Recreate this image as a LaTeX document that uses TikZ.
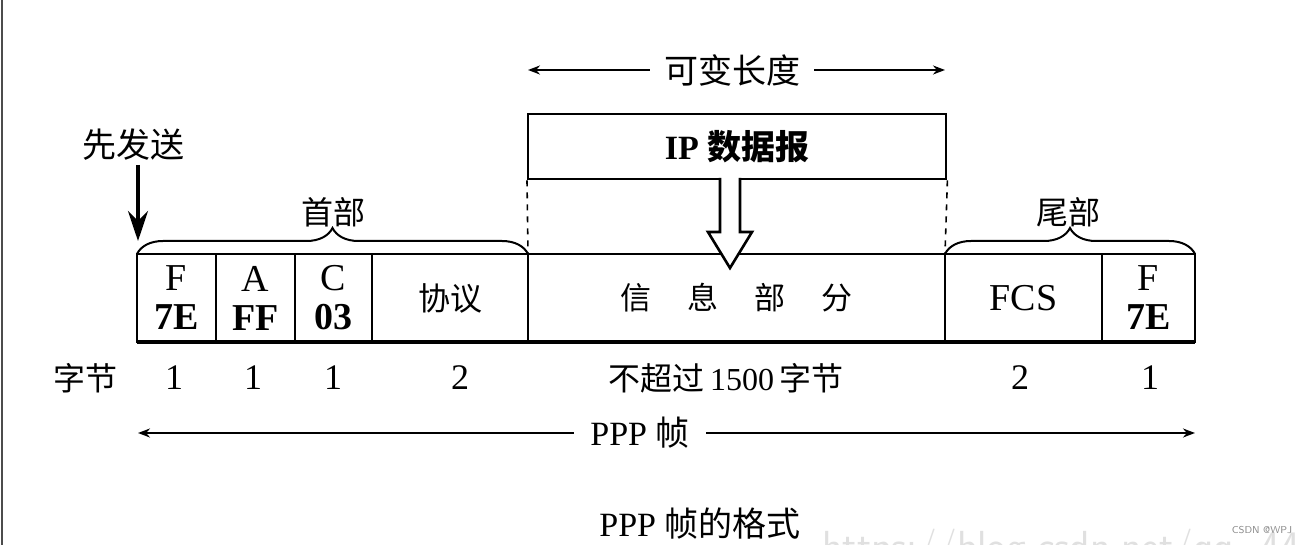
\documentclass[tikz,border=0pt]{standalone}
\usepackage{fontspec}
\setmainfont{Liberation Serif}
\newfontfamily\cjk{Noto Sans CJK SC}
\usetikzlibrary{arrows.meta,decorations.pathreplacing}
\begin{document}
\begin{tikzpicture}[x=0.5pt,y=-0.5pt,
  cellbox/.style={draw, line width=1pt, anchor=north west, inner sep=0pt, outer sep=0pt,
    minimum height=44pt, align=center, font=\fontsize{19pt}{19.5pt}\selectfont},
  cjklabel/.style={inner sep=1pt, font=\fontsize{16pt}{18pt}\selectfont\cjk},
  numlabel/.style={inner sep=1pt, font=\fontsize{18pt}{20pt}\selectfont},
  dimarrow/.style={line width=1pt, -{Stealth[length=6pt,width=4.5pt]}},
  bracestyle/.style={decorate, decoration={brace, amplitude=13pt}, line width=1pt},
  hollowarrow/.style={draw, line width=1.3pt, fill=white, line join=miter},
  wm/.style={text=black!12, font=\fontsize{21pt}{24pt}\selectfont\sffamily}
]
\useasboundingbox (0,0) rectangle (1303,545);
\fill[white] (0,0) rectangle (1303,545);
\draw[black!70, line width=0.8pt] (2,0) -- (2,545);

% frame cells
\node[cellbox, minimum width=39.5pt] (cF) at (137,254) {F\\\textbf{7E}};
\node[cellbox, minimum width=39.5pt] (cA) at (216,254) {A\\\textbf{FF}};
\node[cellbox, minimum width=38.5pt] (cC) at (295,254) {C\\\textbf{03}};
\node[cellbox, minimum width=78pt, font=\fontsize{16pt}{18pt}\selectfont\cjk] (cP) at (372,254) {协议};
\node[cellbox, minimum width=208.5pt, font=\fontsize{15.5pt}{18pt}\selectfont\cjk] (cI) at (528,254) {信\hspace{18pt}息\hspace{18pt}部\hspace{18pt}分};
\node[cellbox, minimum width=78.5pt] (cS) at (945,254) {FCS};
\node[cellbox, minimum width=46.5pt] (cE) at (1102,254) {F\\\textbf{7E}};
\draw[line width=2pt] (cF.south west) -- (cE.south east);

% IP datagram
\node[draw, line width=1.2pt, anchor=north west, inner sep=0pt, minimum width=209pt, minimum height=32.5pt,
  font=\fontsize{17pt}{19pt}\selectfont\bfseries] (ip) at (527,113) {IP {\cjk 数据报}};
\draw[dashed, line width=0.8pt] (ip.south west) -- (cI.north west);
\draw[dashed, line width=0.8pt] (ip.south east) -- (cI.north east);
\path[hollowarrow] (720,178) -- (720,232) -- (708,232) -- (730,268) -- (752,232) -- (740,232) -- (740,178);

% variable length
\node[cjklabel, font=\fontsize{17pt}{19pt}\selectfont\cjk] (var) at (732,70) {可变长度};
\coordinate (varL) at (528,70);
\coordinate (varR) at (945,70);
\draw[dimarrow] ([xshift=-6pt]var.west) -- (varL);
\draw[dimarrow] ([xshift=6pt]var.east) -- (varR);

% braces
\draw[bracestyle] (cF.north west) -- (cP.north east);
\node[cjklabel] (hdr) at (333,212) {首部};
\draw[bracestyle] (cS.north west) -- (cE.north east);
\node[cjklabel] (trl) at (1068,212) {尾部};

% send first
\node[cjklabel, font=\fontsize{17pt}{19pt}\selectfont\cjk] (first) at (134,145) {先发送};
\coordinate (firstEnd) at (138,241);
\draw[line width=1.8pt, -{Stealth[length=15pt,width=10pt]}] (138,165) -- (firstEnd);

% byte row
\node[cjklabel] (bytes) at (86,378) {字节};
\node[numlabel] (n1) at (174,378) {1};
\node[numlabel] (n2) at (253,378) {1};
\node[numlabel] (n3) at (333,378) {1};
\node[numlabel] (n4) at (460,378) {2};
\node[numlabel, font=\fontsize{16pt}{18pt}\selectfont] (n5) at (726,378) {{\cjk 不超过}\,1500\,{\cjk 字节}};
\node[numlabel] (n6) at (1020,378) {2};
\node[numlabel] (n7) at (1150,378) {1};

% PPP frame
\node[inner sep=1pt, font=\fontsize{17pt}{19pt}\selectfont] (ppp) at (640,433) {PPP {\cjk 帧}};
\coordinate (pppL) at (138,433);
\coordinate (pppR) at (1195,433);
\draw[dimarrow] ([xshift=-7pt]ppp.west) -- (pppL);
\draw[dimarrow] ([xshift=7pt]ppp.east) -- (pppR);

% caption
\node[inner sep=1pt, font=\fontsize{17pt}{19pt}\selectfont] (cap) at (700,524) {PPP {\cjk 帧的格式}};

% watermark
\node[wm, anchor=base west, inner sep=0pt] (wm1) at (822,560) {https://blog.csdn.net/qq\_44431708};
\node[text=black!45, font=\fontsize{5pt}{6pt}\selectfont\sffamily, inner sep=0pt] (wm2) at (1262,530) {CSDN @WPJ};
\end{tikzpicture}
\end{document}
